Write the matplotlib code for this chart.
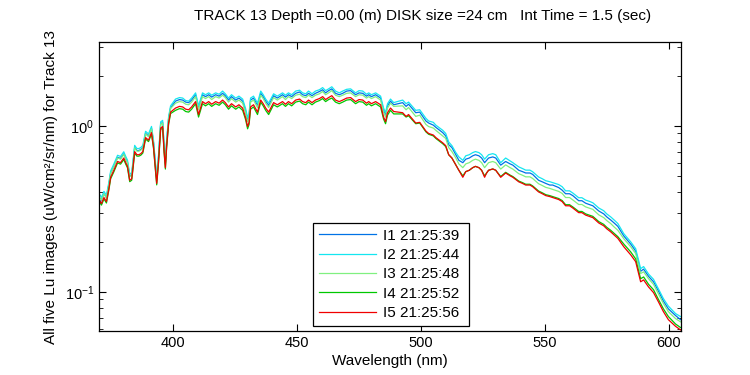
import numpy as np
import matplotlib
matplotlib.use("Agg")
import matplotlib.pyplot as plt
from matplotlib.ticker import LogLocator, NullFormatter

plt.rcParams['font.family'] = ['Liberation Sans', 'DejaVu Sans']
plt.rcParams['mathtext.default'] = 'regular'

# wavelength grid (nm)
wl = [370.0, 371.0, 372.0, 373.0, 374.0, 374.7, 376.0, 377.5, 378.7, 380.0,
      380.8, 381.5, 382.4, 383.2, 383.6, 384.4, 385.3, 386.1, 386.9, 387.7,
      388.8, 390.0, 391.2, 392.0, 392.8, 393.3, 394.0, 394.9, 395.7, 396.3,
      396.8, 397.3, 398.1, 398.9,
      400.9, 402.5, 403.8, 405.0, 406.2, 407.4, 409.0, 410.2, 411.8, 413.0,
      414.3, 415.5, 417.1, 418.5, 419.9, 421.0, 422.3, 423.5, 425.2, 426.5,
      428.0, 429.2, 430.0, 430.6, 431.2, 432.4, 434.0, 435.3, 436.3, 437.3,
      438.5, 440.5, 442.0, 444.1, 445.3, 446.5, 447.8, 449.4, 451.0, 452.2,
      453.5, 454.6, 456.0, 457.4, 459.0, 460.3, 461.5, 462.7, 464.0, 465.5,
      467.0, 468.4, 470.0, 471.6, 473.6, 475.0, 476.5, 478.0, 478.9, 480.0,
      481.7, 483.7, 484.9, 485.7, 486.5, 487.7, 489.0,
      492.6, 494.0, 495.0, 497.9, 499.5, 500.7, 502.0, 503.1, 505.0, 506.0,
      508.8, 510.0, 511.2, 512.5, 514.1, 515.3, 516.9, 518.1, 519.5, 520.9,
      522.0, 523.4, 524.5, 525.7, 526.5, 527.3, 529.0, 530.2,
      532.2, 534.2, 536.0, 537.1, 539.5, 541.0, 542.3, 544.0, 545.1, 547.5,
      549.0, 550.4, 552.0, 553.2, 555.6, 557.0, 558.4, 560.0, 561.3, 563.7,
      565.0, 566.5, 568.0, 569.4, 571.8, 573.8, 575.0, 576.6, 578.0, 579.5,
      581.9, 584.7, 586.7, 587.5, 588.7, 589.9, 591.9, 593.9, 595.9, 597.9,
      599.9, 602.8, 604.8]

I1 = [0.33, 0.36, 0.39, 0.37, 0.445, 0.52, 0.57, 0.647, 0.636, 0.678,
      0.636, 0.604, 0.498, 0.509, 0.572, 0.742, 0.71, 0.71, 0.721, 0.742,
      0.901, 0.869, 0.965, 0.795, 0.583, 0.477, 0.636, 1.028, 1.049, 0.742,
      0.594, 0.795, 1.102, 1.283,
      1.41, 1.44, 1.43, 1.39, 1.38, 1.43, 1.54, 1.29, 1.54, 1.50,
      1.54, 1.49, 1.54, 1.51, 1.57, 1.52, 1.43, 1.50, 1.43, 1.47,
      1.41, 1.23, 1.09, 1.16, 1.43, 1.47, 1.33, 1.57, 1.50, 1.41,
      1.33, 1.52, 1.47, 1.54, 1.49, 1.54, 1.50, 1.57, 1.60, 1.54,
      1.52, 1.57, 1.52, 1.57, 1.61, 1.65, 1.58, 1.63, 1.67, 1.57,
      1.54, 1.57, 1.62, 1.63, 1.54, 1.58, 1.57, 1.51, 1.54, 1.50,
      1.54, 1.47, 1.24, 1.17, 1.32, 1.41, 1.34,
      1.38, 1.31, 1.35, 1.20, 1.21, 1.14, 1.07, 1.04, 1.01, 0.98,
      0.91, 0.87, 0.77, 0.74, 0.67, 0.62, 0.60, 0.63, 0.64, 0.66,
      0.67, 0.66, 0.64, 0.60, 0.62, 0.64, 0.65, 0.64,
      0.58, 0.61, 0.59, 0.58, 0.54, 0.53, 0.52, 0.52, 0.51, 0.47,
      0.46, 0.45, 0.44, 0.44, 0.425, 0.41, 0.39, 0.39, 0.38, 0.354,
      0.354, 0.342, 0.336, 0.33, 0.307, 0.295, 0.283, 0.271, 0.26, 0.248,
      0.217, 0.194, 0.176, 0.158, 0.133, 0.137, 0.124, 0.115, 0.101, 0.088,
      0.079, 0.072, 0.068]

I2 = [0.392, 0.371, 0.403, 0.382, 0.458, 0.534, 0.589, 0.665, 0.654, 0.698,
      0.654, 0.621, 0.512, 0.523, 0.589, 0.763, 0.73, 0.73, 0.741, 0.763,
      0.927, 0.894, 0.992, 0.818, 0.60, 0.491, 0.654, 1.057, 1.079, 0.763,
      0.61, 0.818, 1.134, 1.319,
      1.45, 1.48, 1.47, 1.42, 1.41, 1.47, 1.58, 1.32, 1.58, 1.54,
      1.58, 1.53, 1.58, 1.55, 1.62, 1.56, 1.47, 1.54, 1.47, 1.51,
      1.45, 1.27, 1.12, 1.19, 1.47, 1.51, 1.37, 1.62, 1.54, 1.45,
      1.37, 1.56, 1.51, 1.58, 1.53, 1.58, 1.54, 1.62, 1.64, 1.58,
      1.56, 1.62, 1.56, 1.62, 1.65, 1.70, 1.63, 1.67, 1.72, 1.62,
      1.58, 1.62, 1.66, 1.67, 1.58, 1.63, 1.62, 1.55, 1.58, 1.54,
      1.58, 1.51, 1.28, 1.20, 1.36, 1.45, 1.38,
      1.43, 1.36, 1.39, 1.24, 1.25, 1.18, 1.11, 1.07, 1.05, 1.01,
      0.94, 0.90, 0.80, 0.76, 0.69, 0.65, 0.62, 0.66, 0.67, 0.69,
      0.70, 0.69, 0.67, 0.63, 0.65, 0.67, 0.68, 0.67,
      0.60, 0.64, 0.615, 0.60, 0.566, 0.553, 0.541, 0.541, 0.529, 0.492,
      0.48, 0.467, 0.461, 0.455, 0.443, 0.43, 0.406, 0.406, 0.394, 0.369,
      0.369, 0.357, 0.351, 0.344, 0.32, 0.308, 0.295, 0.283, 0.271, 0.258,
      0.224, 0.200, 0.182, 0.163, 0.138, 0.142, 0.128, 0.119, 0.104, 0.091,
      0.082, 0.074, 0.071]

I3 = [0.378, 0.357, 0.389, 0.368, 0.441, 0.515, 0.567, 0.641, 0.63, 0.672,
      0.63, 0.599, 0.494, 0.504, 0.567, 0.735, 0.704, 0.704, 0.714, 0.735,
      0.893, 0.861, 0.956, 0.788, 0.578, 0.473, 0.63, 1.019, 1.04, 0.735,
      0.588, 0.788, 1.092, 1.271,
      1.37, 1.40, 1.39, 1.35, 1.34, 1.39, 1.50, 1.25, 1.50, 1.46,
      1.50, 1.44, 1.50, 1.47, 1.53, 1.48, 1.39, 1.46, 1.39, 1.43,
      1.37, 1.20, 1.06, 1.12, 1.39, 1.43, 1.29, 1.53, 1.46, 1.37,
      1.29, 1.48, 1.43, 1.50, 1.44, 1.50, 1.46, 1.53, 1.55, 1.50,
      1.48, 1.53, 1.48, 1.53, 1.56, 1.61, 1.54, 1.58, 1.63, 1.53,
      1.50, 1.53, 1.57, 1.58, 1.50, 1.54, 1.53, 1.47, 1.50, 1.46,
      1.50, 1.43, 1.21, 1.13, 1.28, 1.37, 1.31,
      1.32, 1.25, 1.29, 1.14, 1.16, 1.09, 1.02, 0.99, 0.97, 0.94,
      0.87, 0.84, 0.74, 0.70, 0.64, 0.59, 0.56, 0.59, 0.60, 0.62,
      0.63, 0.62, 0.60, 0.56, 0.58, 0.60, 0.61, 0.60,
      0.549, 0.582, 0.56, 0.549, 0.515, 0.504, 0.493, 0.493, 0.482, 0.448,
      0.437, 0.426, 0.42, 0.414, 0.403, 0.392, 0.37, 0.37, 0.358, 0.336,
      0.336, 0.325, 0.319, 0.314, 0.291, 0.28, 0.269, 0.258, 0.246, 0.235,
      0.209, 0.187, 0.170, 0.152, 0.129, 0.132, 0.120, 0.111, 0.097, 0.085,
      0.076, 0.069, 0.066]

I4 = [0.353, 0.333, 0.363, 0.343, 0.412, 0.48, 0.529, 0.598, 0.588, 0.627,
      0.588, 0.559, 0.461, 0.47, 0.529, 0.686, 0.657, 0.657, 0.666, 0.686,
      0.833, 0.804, 0.892, 0.735, 0.539, 0.441, 0.588, 0.951, 0.97, 0.686,
      0.549, 0.735, 1.019, 1.186,
      1.24, 1.27, 1.26, 1.22, 1.21, 1.26, 1.36, 1.13, 1.36, 1.32,
      1.36, 1.31, 1.36, 1.33, 1.39, 1.34, 1.26, 1.32, 1.26, 1.30,
      1.24, 1.09, 0.96, 1.02, 1.26, 1.30, 1.17, 1.39, 1.32, 1.24,
      1.17, 1.34, 1.30, 1.36, 1.31, 1.36, 1.32, 1.39, 1.41, 1.36,
      1.34, 1.39, 1.34, 1.39, 1.42, 1.46, 1.40, 1.44, 1.47, 1.39,
      1.36, 1.39, 1.43, 1.44, 1.36, 1.40, 1.39, 1.33, 1.36, 1.32,
      1.36, 1.30, 1.10, 1.03, 1.16, 1.24, 1.18,
      1.18, 1.13, 1.15, 1.03, 1.04, 0.98, 0.92, 0.89, 0.87, 0.84,
      0.78, 0.75, 0.67, 0.64, 0.58, 0.54, 0.50, 0.53, 0.54, 0.56,
      0.57, 0.56, 0.54, 0.50, 0.52, 0.54, 0.55, 0.54,
      0.495, 0.525, 0.505, 0.495, 0.465, 0.455, 0.445, 0.445, 0.435, 0.405,
      0.395, 0.385, 0.38, 0.375, 0.365, 0.355, 0.335, 0.335, 0.325, 0.305,
      0.305, 0.295, 0.29, 0.285, 0.265, 0.255, 0.245, 0.235, 0.225, 0.215,
      0.194, 0.174, 0.158, 0.141, 0.120, 0.123, 0.111, 0.103, 0.090, 0.079,
      0.071, 0.064, 0.061]

I5 = [0.36, 0.34, 0.37, 0.35, 0.42, 0.49, 0.54, 0.61, 0.60, 0.64,
      0.60, 0.57, 0.47, 0.48, 0.54, 0.70, 0.67, 0.67, 0.68, 0.70,
      0.85, 0.82, 0.91, 0.75, 0.55, 0.45, 0.60, 0.97, 0.99, 0.70,
      0.56, 0.75, 1.04, 1.21,
      1.28, 1.31, 1.30, 1.26, 1.25, 1.30, 1.40, 1.17, 1.40, 1.36,
      1.40, 1.35, 1.40, 1.37, 1.43, 1.38, 1.30, 1.36, 1.30, 1.34,
      1.28, 1.12, 0.99, 1.05, 1.30, 1.34, 1.21, 1.43, 1.36, 1.28,
      1.21, 1.38, 1.34, 1.40, 1.35, 1.40, 1.36, 1.43, 1.45, 1.40,
      1.38, 1.43, 1.38, 1.43, 1.46, 1.50, 1.44, 1.48, 1.52, 1.43,
      1.40, 1.43, 1.47, 1.48, 1.40, 1.44, 1.43, 1.37, 1.40, 1.36,
      1.40, 1.34, 1.13, 1.06, 1.20, 1.28, 1.22,
      1.20, 1.14, 1.17, 1.04, 1.05, 0.99, 0.93, 0.90, 0.88, 0.85,
      0.79, 0.76, 0.67, 0.64, 0.58, 0.54, 0.49, 0.53, 0.54, 0.56,
      0.57, 0.56, 0.54, 0.49, 0.52, 0.54, 0.55, 0.54,
      0.49, 0.52, 0.50, 0.49, 0.46, 0.45, 0.44, 0.44, 0.43, 0.40,
      0.39, 0.38, 0.375, 0.37, 0.36, 0.35, 0.33, 0.33, 0.32, 0.30,
      0.30, 0.29, 0.285, 0.28, 0.26, 0.25, 0.24, 0.23, 0.22, 0.21,
      0.187, 0.167, 0.152, 0.136, 0.115, 0.118, 0.107, 0.099, 0.087, 0.076,
      0.068, 0.062, 0.059]

labels = ["I1 21:25:39", "I2 21:25:44", "I3 21:25:48", "I4 21:25:52", "I5 21:25:56"]
colors = ["#0072e6", "#14e6f0", "#80f080", "#00c800", "#f00000"]
series = [I1, I2, I3, I4, I5]

fig = plt.figure(figsize=(7.5, 3.75), dpi=100)
ax = fig.add_axes([0.132, 0.117, 0.776, 0.771])

for vals, lab, col in zip(series, labels, colors):
    ax.plot(wl, vals, color=col, linewidth=0.9, label=lab)

ax.set_yscale("log")
ax.set_xlim(370, 605)
ax.set_ylim(0.058, 3.2)
ax.set_xticks([400, 450, 500, 550, 600])
ax.yaxis.set_major_locator(LogLocator(base=10, numticks=10))
ax.yaxis.set_minor_locator(LogLocator(base=10, subs=np.arange(2, 10), numticks=10))
ax.yaxis.set_minor_formatter(NullFormatter())
ax.tick_params(which="both", direction="in", top=True, right=True, labelsize=10.5)
ax.tick_params(which="major", length=5)
ax.tick_params(which="minor", length=3)
for sp in ax.spines.values():
    sp.set_linewidth(0.9)

ax.set_xlabel("Wavelength (nm)", fontsize=11, labelpad=3)
ax.set_ylabel("All five Lu images (uW/cm\u00b2/sr/nm) for Track 13", fontsize=11, labelpad=5)
fig.text(0.564, 0.958, "TRACK 13 Depth =0.00 (m) DISK size =24 cm   Int Time = 1.5 (sec)",
         ha="center", va="center", fontsize=11)

leg = ax.legend(loc="lower left", bbox_to_anchor=(0.368, 0.017, 0.268, 0.367),
                mode="expand", fancybox=False, framealpha=1, edgecolor="black",
                fontsize=11, handlelength=3.7, handletextpad=0.5,
                borderaxespad=0, labelspacing=0.35)
leg.get_frame().set_linewidth(0.9)

plt.savefig("out.png", dpi=100)
plt.close()
